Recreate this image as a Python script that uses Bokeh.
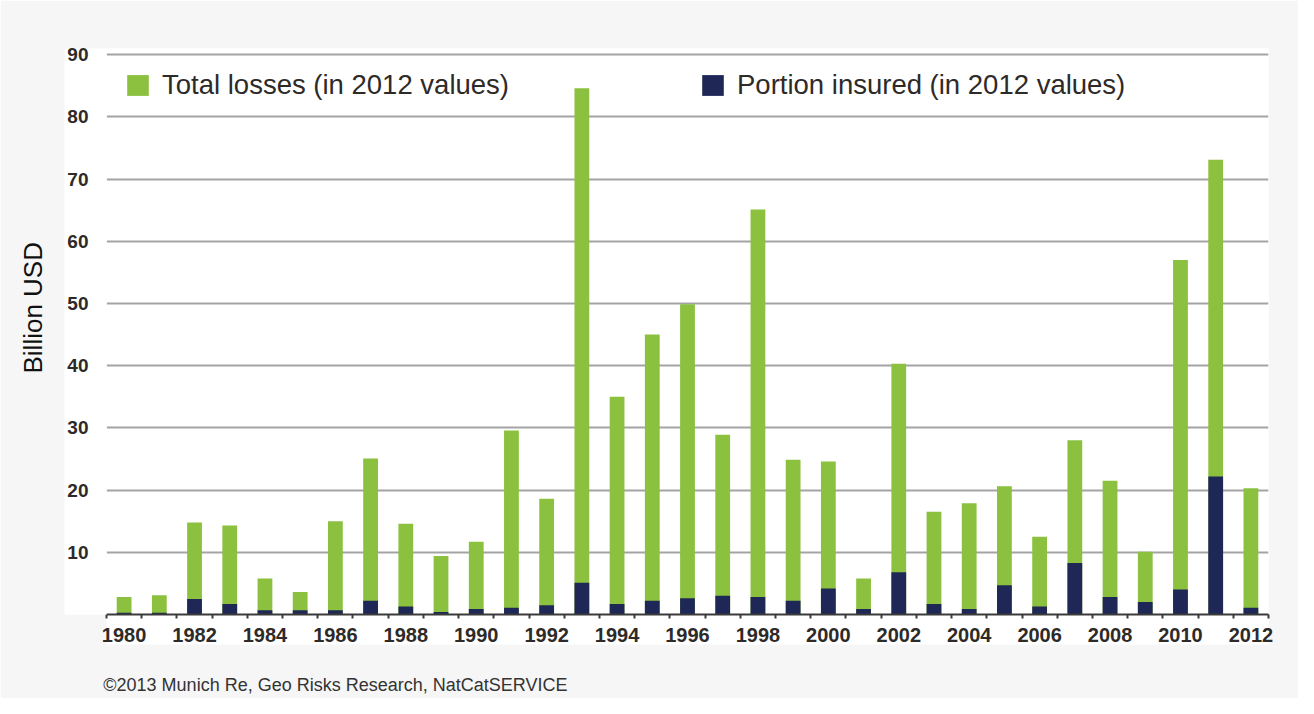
from bokeh.plotting import figure
from bokeh.models import (Range1d, FixedTicker, Legend, LegendItem, BoxAnnotation,
                          LinearAxis, Title)
from bokeh.embed import file_html
from bokeh.resources import INLINE

# ---- data ----
years = list(range(1980, 2013))
total_losses = [2.8, 3.1, 14.8, 14.3, 5.8, 3.6, 15.0, 25.1, 14.6, 9.4,
                11.7, 29.6, 18.6, 84.6, 35.0, 45.0, 49.9, 28.9, 65.1, 24.9,
                24.6, 5.8, 40.3, 16.5, 17.9, 20.6, 12.5, 28.0, 21.5, 10.1,
                57.0, 73.1, 20.3]
insured = [0.3, 0.3, 2.5, 1.7, 0.7, 0.7, 0.7, 2.2, 1.3, 0.4,
           0.9, 1.1, 1.5, 5.1, 1.7, 2.2, 2.6, 3.0, 2.8, 2.2,
           4.2, 0.9, 6.8, 1.7, 0.9, 4.7, 1.3, 8.3, 2.8, 2.0,
           4.0, 22.2, 1.1]
y_ticks = [10, 20, 30, 40, 50, 60, 70, 80, 90]
x_label_years = [y for y in years if y % 2 == 0]
series_names = ["Total losses (in 2012 values)", "Portion insured (in 2012 values)"]
y_title = "Billion USD"
caption = "\u00a92013 Munich Re, Geo Risks Research, NatCatSERVICE"

GREEN = "#8cc03f"
NAVY = "#1f2757"
TXT = "#2e2a28"
FONT = "Liberation Sans"

W, H = 1298, 698
p = figure(width=W, height=H, output_backend="svg", toolbar_location=None,
           x_range=Range1d(years[0] - 0.5, years[-1] + 0.5), y_range=Range1d(0, 91),
           min_border_left=106, min_border_right=W - 1268, min_border_top=48,
           min_border_bottom=H - 614)
p.border_fill_color = "#f6f6f6"
p.background_fill_color = "white"
p.outline_line_color = None

r_total = p.vbar(x=years, top=total_losses, width=0.42, fill_color=GREEN, line_color=None)
r_ins = p.vbar(x=years, top=insured, width=0.42, fill_color=NAVY, line_color=None)

# y axis
yt = FixedTicker(ticks=y_ticks)
p.yaxis.ticker = yt
p.ygrid.ticker = yt
p.ygrid.grid_line_color = "#a4a4a4"
p.ygrid.grid_line_width = 2
p.yaxis.axis_line_color = None
p.yaxis.major_tick_line_color = None
p.yaxis.minor_tick_line_color = None
p.yaxis.major_tick_out = 0
p.yaxis.minor_tick_out = 0
p.yaxis.major_label_standoff = 18
p.yaxis.major_label_text_font = FONT
p.yaxis.major_label_text_font_size = "19px"
p.yaxis.major_label_text_font_style = "bold"
p.yaxis.major_label_text_color = TXT
p.yaxis.background_fill_color = "white"

# x axis
boundaries = [y - 0.5 for y in years] + [years[-1] + 0.5]
xt = FixedTicker(ticks=x_label_years, minor_ticks=boundaries)
p.xaxis.ticker = xt
p.xgrid.grid_line_color = None
p.xaxis.axis_line_color = "#3a3a3a"
p.xaxis.axis_line_width = 2
p.xaxis.major_tick_line_color = None
p.xaxis.major_tick_out = 0
p.xaxis.major_tick_in = 0
p.xaxis.minor_tick_line_color = "#3a3a3a"
p.xaxis.minor_tick_line_width = 2
p.xaxis.minor_tick_out = 4
p.xaxis.minor_tick_in = 0
p.xaxis.major_label_standoff = 9
p.xaxis.major_label_text_font = FONT
p.xaxis.major_label_text_font_size = "20px"
p.xaxis.major_label_text_font_style = "bold"
p.xaxis.major_label_text_color = TXT
p.xaxis.background_fill_color = "white"

# pixel -> data helpers for placement
px_x = (p.x_range.end - p.x_range.start) / (1268 - 106)
px_y = (p.y_range.end - p.y_range.start) / (614 - 48)
def dx(sx):
    return p.x_range.start + (sx - 106) * px_x
def dy(sy):
    return (614 - sy) * px_y

# white corner under the axes
p.add_layout(BoxAnnotation(left=dx(60), right=dx(103), top=0, bottom=dy(643),
                           fill_color="white", fill_alpha=1, line_color=None))

# legends
for name, r, x in [(series_names[0], r_total, 18), (series_names[1], r_ins, 593)]:
    lg = Legend(items=[LegendItem(label=name, renderers=[r])], location=(x, 513),
                margin=0, padding=0, border_line_color=None, background_fill_alpha=0,
                glyph_width=27, glyph_height=26, label_standoff=11,
                label_text_font=FONT, label_text_font_size="27.5px", label_text_color=TXT)
    p.add_layout(lg)

# y title (outside the white panel)
p.add_layout(Title(text=y_title, align="left", offset=614 - 373, standoff=30,
                   vertical_align="top",
                   text_font=FONT, text_font_size="26px", text_font_style="normal",
                   text_color="#111111"), "left")

# caption: single tick label of an empty second x axis
cap_pos = 1986
cap_axis = LinearAxis(ticker=FixedTicker(ticks=[cap_pos]),
                      major_label_overrides={cap_pos: caption},
                      axis_line_color=None, major_tick_line_color=None,
                      minor_tick_line_color=None, major_tick_out=0, minor_tick_out=0,
                      major_tick_in=0, minor_tick_in=0, major_label_standoff=30,
                      major_label_text_font=FONT, major_label_text_font_size="18px",
                      major_label_text_font_style="normal", major_label_text_color="#333333")
p.add_layout(cap_axis, "below")

open("out.html", "w").write(file_html(p, INLINE))
